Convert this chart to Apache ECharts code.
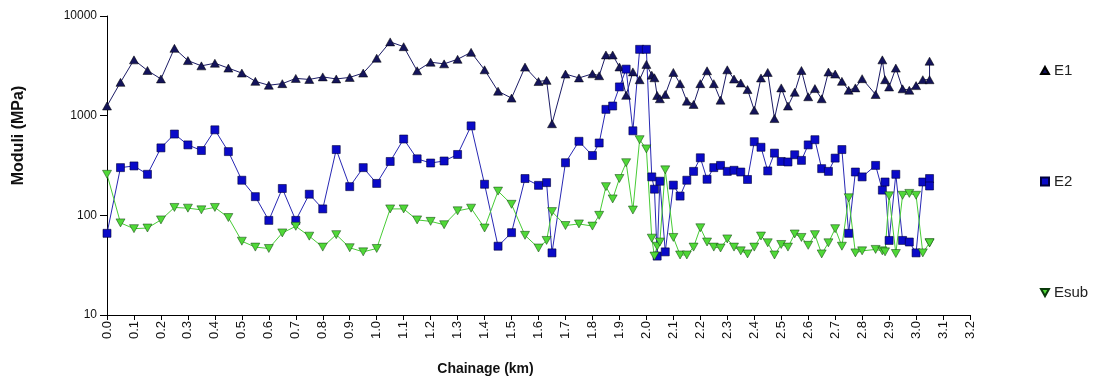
<!DOCTYPE html>
<html>
<head>
<meta charset="utf-8">
<script src="https://cdn.jsdelivr.net/npm/echarts@6/dist/echarts.min.js"></script>
<style>
  html, body { margin: 0; padding: 0; background: #fff; }
  #chart { width: 1096px; height: 381px; }
</style>
</head>
<body>
<div id="chart"></div>
<script>
// stations along the road (km)
const chainage = [
  0, 0.05, 0.1, 0.15, 0.2, 0.25, 0.3, 0.35, 0.4, 0.45, 0.5, 0.55, 0.6, 0.65, 0.7, 0.75,
  0.8, 0.85, 0.9, 0.95, 1.0, 1.05, 1.1, 1.15, 1.2, 1.25, 1.3, 1.35, 1.4, 1.45, 1.5, 1.55, 1.6,
  1.63, 1.65, 1.7, 1.75, 1.8, 1.825, 1.85, 1.875, 1.9, 1.925, 1.95, 1.975, 2.0,
  2.02, 2.03, 2.04, 2.05, 2.07,
  2.1, 2.125, 2.15, 2.175, 2.2, 2.225, 2.25, 2.275, 2.3, 2.325, 2.35, 2.375, 2.4, 2.425, 2.45,
  2.475, 2.5, 2.525, 2.55, 2.575, 2.6, 2.625, 2.65, 2.675, 2.7, 2.725, 2.75, 2.775, 2.8,
  2.85, 2.875, 2.885, 2.9, 2.925, 2.95, 2.975, 3.0, 3.025, 3.05, 3.05
];
const e1 = [
  1250, 2160, 3630, 2840, 2335, 4740, 3570, 3160, 3360, 3000, 2675, 2210, 2020, 2095, 2365, 2310,
  2450, 2335, 2420, 2675, 3770, 5500, 4920, 2820, 3440, 3310, 3680, 4320, 2885, 1760, 1500, 3070, 2200,
  2260, 830, 2615, 2390, 2630, 2515, 4065, 4065, 3080, 1600, 2750, 2295, 3270,
  2550, 2400, 1593, 1478, 1630,
  2715, 2095, 1399, 1297, 2095, 2820, 2095, 1431, 2885, 2330, 2128, 1828, 1135, 2390, 2715,
  935, 1900, 1248, 1718, 2840, 1548, 1870, 1478, 2740, 2615, 2210, 1800, 1900, 2350,
  1630, 3630, 2295, 1940, 3000, 1860, 1800, 2003, 2295, 2295, 3520
];
const e2 = [
  66, 301, 313, 258, 475, 654, 509, 447, 721, 436, 225, 154, 89, 186, 89, 163,
  116, 457, 194, 301, 209, 347, 583, 369, 335, 351, 408, 790, 205, 49, 67, 234, 200,
  213, 42, 337, 553, 398, 532, 1157, 1250, 1943, 2930, 705, 4630, 4630,
  243, 183, 39, 220, 43,
  201, 156, 225, 276, 378, 230, 301, 317, 276, 283, 272, 229, 548, 482, 279,
  421, 347, 343, 405, 356, 509, 574, 294, 276, 375, 457, 66, 272, 243,
  317, 179, 216, 56, 258, 56, 54, 42, 216, 234, 197
];
const esub = [
  258, 84, 73.5, 74.6, 90, 120, 118, 113.5, 120, 95, 55, 48, 46.5, 66.6, 77.6, 61.8,
  48, 64, 47.3, 43, 46.5, 116, 116, 90, 87, 80.5, 111, 118, 74.6, 175, 129, 63, 47,
  56, 109, 79, 82, 78, 100, 194, 146, 234, 337, 113, 574, 464,
  59, 39, 49, 54, 286,
  60, 40, 40, 48, 75, 54, 48, 47, 58, 48, 44, 41, 48, 62, 53,
  40, 51, 48, 65, 60, 50, 64, 41, 53, 73.5, 49, 150, 42, 44,
  45.5, 44, 43, 157, 41.4, 159, 166, 159, 42, 53, 53
];
const seriesNames = ['E1', 'E2', 'Esub'];

const pairs = vals => chainage.map((x, i) => [x, vals[i]]);
const downTri = 'path://M0,0 L10,0 L5,9 Z';
const upTri = 'path://M5,0 L10,9 L0,9 Z';

const chart = echarts.init(document.getElementById('chart'));
chart.setOption({
  animation: false,
  backgroundColor: '#ffffff',
  textStyle: { fontFamily: 'Liberation Sans, Arial, sans-serif' },
  grid: { left: 107, right: 126, top: 16, bottom: 63 },
  legend: {
    orient: 'vertical',
    left: 1035,
    top: 58,
    itemGap: 96,
    itemWidth: 8,
    itemHeight: 8,
    textStyle: { fontSize: 15, color: '#222' },
    data: [
      { name: 'E1', icon: upTri, itemStyle: { color: '#14145a' } },
      { name: 'E2', icon: 'rect', itemStyle: { color: '#0a0ac8' } },
      { name: 'Esub', icon: downTri, itemStyle: { color: '#50d838' } }
    ]
  },
  xAxis: {
    type: 'value',
    min: 0,
    max: 3.2,
    interval: 0.1,
    name: 'Chainage (km)',
    nameLocation: 'middle',
    nameGap: 47,
    nameTextStyle: { fontSize: 14, fontWeight: 'bold', color: '#111', padding: [0, 106, 0, 0] },
    axisLine: { lineStyle: { color: '#000', width: 1 } },
    axisTick: { length: 5, lineStyle: { color: '#000' } },
    axisLabel: {
      rotate: 90,
      fontSize: 13,
      color: '#111',
      margin: 6,
      formatter: v => v.toFixed(1)
    },
    splitLine: { show: false }
  },
  yAxis: {
    type: 'log',
    logBase: 10,
    min: 10,
    max: 10000,
    name: 'Moduli (MPa)',
    nameLocation: 'middle',
    nameGap: 80,
    nameTextStyle: { fontSize: 16, fontWeight: 'bold', color: '#111', padding: [0, 0, 0, 60] },
    axisLine: { show: true, lineStyle: { color: '#000', width: 1 } },
    axisTick: { show: true, length: 7, lineStyle: { color: '#000' } },
    minorTick: { show: false },
    axisLabel: { fontSize: 12, color: '#111', margin: 10, formatter: v => String(v) },
    splitLine: { show: false }
  },
  series: [
    {
      name: seriesNames[0],
      type: 'line',
      data: pairs(e1),
      symbol: upTri,
      symbolSize: [9, 8],
      showAllSymbol: true,
      lineStyle: { color: '#1c1c66', width: 1 },
      itemStyle: { color: '#14145a', borderColor: '#000', borderWidth: 0.5 }
    },
    {
      name: seriesNames[1],
      type: 'line',
      data: pairs(e2),
      symbol: 'rect',
      symbolSize: 8,
      showAllSymbol: true,
      lineStyle: { color: '#2828b4', width: 1 },
      itemStyle: { color: '#0a0ac8', borderColor: '#00003a', borderWidth: 0.6 }
    },
    {
      name: seriesNames[2],
      type: 'line',
      data: pairs(esub),
      symbol: downTri,
      symbolSize: [9, 8],
      showAllSymbol: true,
      lineStyle: { color: '#48cc36', width: 1 },
      itemStyle: { color: '#50d838', borderColor: '#0a3a0a', borderWidth: 0.5 }
    }
  ]
});
</script>
</body>
</html>
